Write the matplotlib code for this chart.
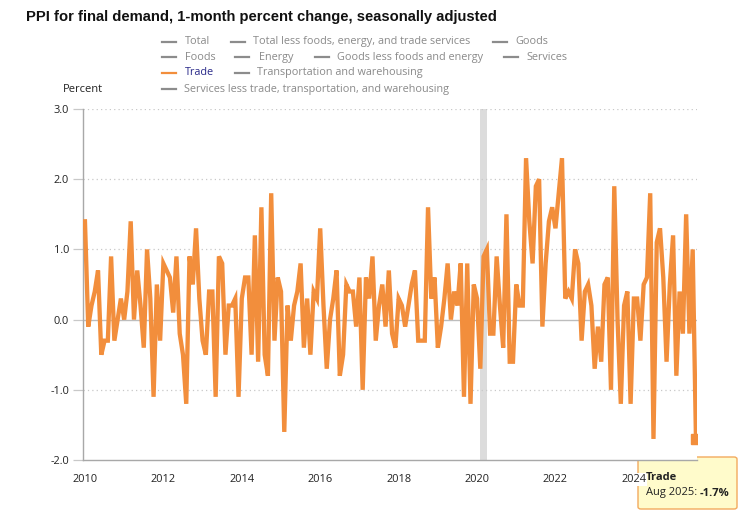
import matplotlib
matplotlib.use("Agg")
import matplotlib.pyplot as plt
from matplotlib.patches import FancyBboxPatch
from matplotlib.lines import Line2D
import numpy as np

# ---- data -------------------------------------------------------------
start_year = 2010
start_month = 1  # Jan 2010 ... Aug 2025, monthly
trade = [
    1.4, -0.1, 0.2, 0.4, 0.7, -0.5, -0.3, -0.3, 0.9, -0.3, 0.0, 0.3,
    0.0, 0.4, 1.4, 0.0, 0.7, 0.2, -0.4, 1.0, 0.3, -1.1, 0.5, -0.3,
    0.8, 0.7, 0.6, 0.1, 0.9, -0.2, -0.5, -1.2, 0.9, 0.5, 1.3, 0.3,
    -0.3, -0.5, 0.4, 0.4, -1.1, 0.9, 0.8, -0.5, 0.2, 0.2, 0.3, -1.1,
    0.3, 0.6, 0.6, -0.5, 1.2, -0.6, 1.6, -0.5, -0.8, 1.8, -0.3, 0.6,
    0.4, -1.6, 0.2, -0.3, 0.2, 0.4, 0.8, -0.4, 0.3, -0.5, 0.4, 0.3,
    1.3, 0.2, -0.7, 0.0, 0.3, 0.7, -0.8, -0.5, 0.5, 0.4, 0.4, -0.1,
    0.6, -1.0, 0.6, 0.3, 0.9, -0.3, 0.2, 0.5, -0.1, 0.7, -0.2, -0.4,
    0.3, 0.2, -0.1, 0.2, 0.5, 0.7, -0.3, -0.3, -0.3, 1.6, 0.3, 0.6,
    -0.4, -0.1, 0.3, 0.8, 0.0, 0.4, 0.2, 0.8, -1.1, 0.8, -1.2, 0.5,
    0.3, -0.7, 0.9, 1.0, -0.2, -0.2, 0.9, 0.2, -0.4, 1.5, -0.6, -0.6,
    0.5, 0.2, 0.2, 2.3, 1.4, 0.8, 1.9, 2.0, -0.1, 0.8, 1.4, 1.6,
    1.3, 1.8, 2.3, 0.3, 0.4, 0.3, 1.0, 0.8, -0.3, 0.4, 0.5, 0.2,
    -0.7, -0.1, -0.6, 0.5, 0.6, -1.0, 1.9, 0.0, -1.2, 0.2, 0.4, -1.2,
    0.3, 0.3, -0.3, 0.5, 0.6, 1.8, -1.7, 1.1, 1.3, 0.6, -0.6, 0.5,
    1.2, -0.8, 0.4, -0.2, 1.5, -0.2, 1.0, -1.7,
]
recession_start = (2020, 2)
recession_end = (2020, 4)
xtick_years = [2010, 2012, 2014, 2016, 2018, 2020, 2022, 2024]
ytick_values = [-2.0, -1.0, 0.0, 1.0, 2.0, 3.0]
title = "PPI for final demand, 1-month percent change, seasonally adjusted"
ylabel = "Percent"
legend_rows = [
    ["Total", "Total less foods, energy, and trade services", "Goods"],
    ["Foods", "Energy", "Goods less foods and energy", "Services"],
    ["Trade", "Transportation and warehousing"],
    ["Services less trade, transportation, and warehousing"],
]
tooltip_series = "Trade"
tooltip_date = "Aug 2025"

# ---- figure -----------------------------------------------------------
W, H = 740, 512
fig = plt.figure(figsize=(W / 100, H / 100), dpi=100)
FONT = "Open Sans"

def fx(px):
    return px / W

def fy(py):
    return 1 - py / H

ax = fig.add_axes([fx(83), fy(460), fx(697) - fx(83), fy(109) - fy(460)])

x = np.array([start_year + (start_month - 1 + i) / 12 for i in range(len(trade))])
y = np.array(trade)
orange = "#F28E3C"

ax.axvspan(recession_start[0] + (recession_start[1] - 1) / 12,
           recession_end[0] + (recession_end[1] - 1) / 12,
           color="#DCDCDC", lw=0, zorder=1)
for v in ytick_values:
    if v == 0:
        ax.axhline(v, color="#BDBDBD", lw=1.0, zorder=2)
    elif v > ytick_values[0]:
        ax.axhline(v, color="#C8C8C8", lw=0.9, ls=(0, (1, 2.5)), zorder=2)

ax.plot(x, y, color=orange, lw=3.1, solid_joinstyle="miter", zorder=3)
ax.plot(x[-1:], y[-1:], marker="s", ms=6.5, color=orange, lw=0, zorder=4)

ax.set_xlim(2009.95, 2025.61)
ax.set_ylim(-2.0, 3.0)
ax.set_yticks(ytick_values)
ax.set_yticklabels([f"{v:.1f}" for v in ytick_values], fontsize=7.9,
                   family=FONT, color="#222222")
ax.set_xticks(xtick_years)
ax.set_xticklabels([str(v) for v in xtick_years], fontsize=7.9,
                   family=FONT, color="#222222")
ax.tick_params(axis="y", length=7, width=0.9, color="#C8C8C8", pad=3)
ax.tick_params(axis="x", length=0, pad=10)
for s in ["top", "right"]:
    ax.spines[s].set_visible(False)
ax.spines["left"].set_color("#A8A8A8")
ax.spines["bottom"].set_color("#A8A8A8")
ax.spines["left"].set_linewidth(1.0)
ax.spines["bottom"].set_linewidth(1.0)
ax.set_facecolor("white")

# title and y label
fig.text(fx(26), fy(17), title, family="Liberation Sans", weight="bold",
         fontsize=10.6, color="#111111", va="center", ha="left")
fig.text(fx(63), fy(90), ylabel, family=FONT, fontsize=8, color="#222222",
         va="center", ha="left")

# legend (manual layout)
legend_pos = [
    (41.7, [(162, 184.5), (231, 253), (493, 515)]),
    (57.3, [(162, 184.5), (235, 258.5), (315, 337), (504, 526)]),
    (72.7, [(162, 184.5), (235, 257)]),
    (89.3, [(162, 184.5)]),
]
for (row_y, cols), names in zip(legend_pos, legend_rows):
    for (lx, tx), name in zip(cols, names):
        active = name == tooltip_series
        lc = orange if active else "#8C8C8C"
        tc = "#2A2A8A" if active else "#8A8A8A"
        fig.add_artist(Line2D([fx(lx), fx(lx + 14)], [fy(row_y), fy(row_y)],
                              color=lc, lw=1.6, transform=fig.transFigure))
        fig.text(fx(tx), fy(row_y), name, family=FONT, fontsize=7.85,
                 color=tc, va="center", ha="left")

# tooltip
box = FancyBboxPatch((fx(638), fy(509)), fx(737) - fx(638), fy(457) - fy(509),
                     boxstyle="round,pad=0,rounding_size=0.004",
                     transform=fig.transFigure, facecolor="#FFFBCB",
                     edgecolor="#F3AA5E", lw=1.0, zorder=-1)
fig.add_artist(box)
fig.text(fx(646), fy(478), tooltip_series, family=FONT, weight="bold",
         fontsize=8.0, color="#222222", va="center", ha="left")
t1 = fig.text(fx(646), fy(493), f"{tooltip_date}: ", family=FONT,
              fontsize=8.0, color="#222222", va="center", ha="left")
fig.canvas.draw()
bb = t1.get_window_extent()
fig.text(bb.x1 / W, fy(493), f"{trade[-1]:.1f}%", family=FONT, weight="bold",
         fontsize=8.0, color="#222222", va="center", ha="left")

lbl = ax.get_xticklabels()[-1]
lbl.set_bbox(dict(facecolor="white", edgecolor="none", pad=0.5))

fig.savefig("out.png", dpi=100)
